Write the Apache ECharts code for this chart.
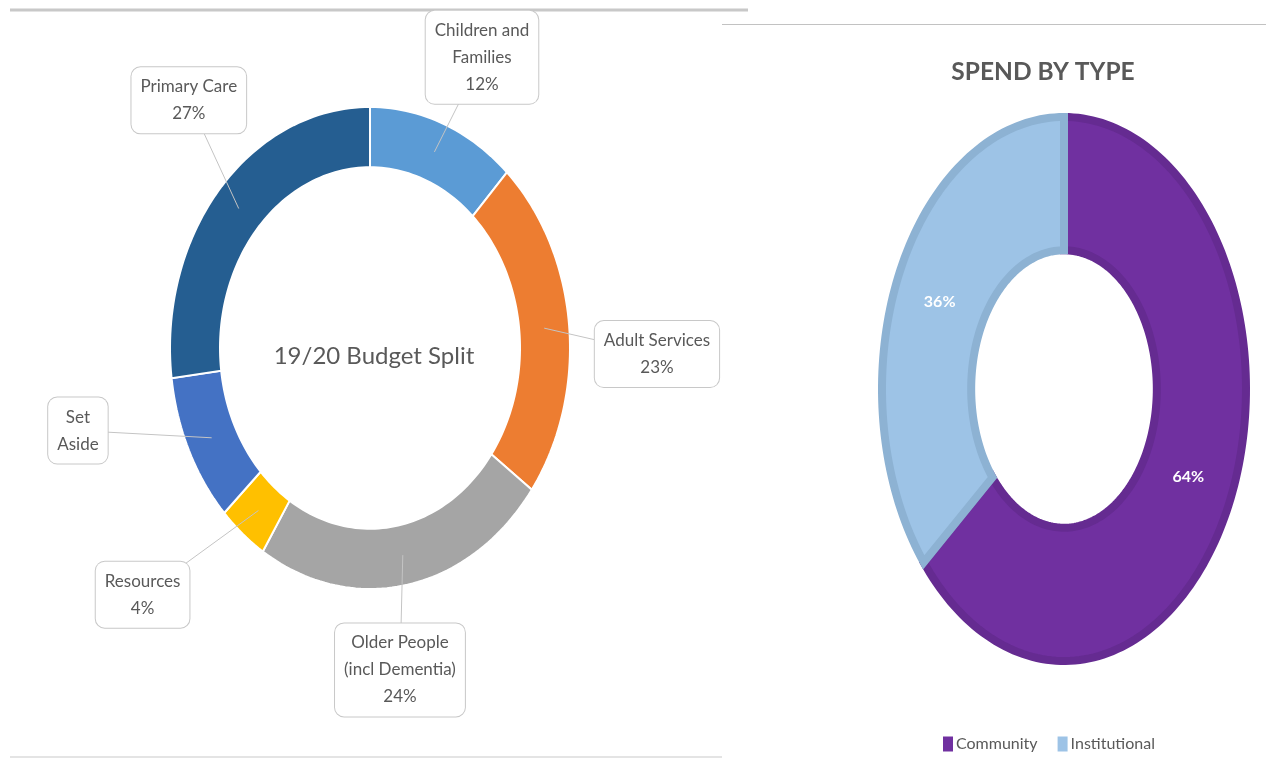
<!DOCTYPE html>
<html>
<head>
<meta charset="utf-8">
<script src="https://cdn.jsdelivr.net/npm/echarts@6/dist/echarts.min.js"></script>
<style>
  html, body { margin: 0; padding: 0; background: #fff; }
  #chart { width: 1266px; height: 760px; }
</style>
</head>
<body>
<div id="chart"></div>
<script>
// left donut: 19/20 budget split
const budgetNames = ['Children and\nFamilies', 'Adult Services', 'Older People\n(incl Dementia)', 'Resources', 'Set\nAside', 'Primary Care']
const budgetValues = [12, 23, 24, 4, 10, 27]
const budgetShowPct = [true, true, true, true, false, true]

// right donut: spend by type
const spendNames = ['Community', 'Institutional']
const spendValues = [64, 36]

const budgetColors = ['#5B9BD5', '#ED7D31', '#A5A5A5', '#FFC000', '#4472C4', '#255E91']
const spendColors = ['#7030A0', '#9DC3E6']
const spendBorders = ['#652B91', '#8DB2D3']

// label box placement: [radius factor, angle nudge in degrees]
const labelLayout = [[1.33, 3.3], [1.435, 6.4], [1.344, 4.4], [1.53, 8.4], [1.5, 12], [1.37, 7.2]]

const BUDGET_INNER = 0.75
const SPEND_INNER = 0.51
const TWO_PI = Math.PI * 2
const textColor = '#595959'

function cumulative(values) {
  const total = values.reduce((a, b) => a + b, 0)
  let acc = 0
  return values.map(v => {
    const s = acc / total
    acc += v
    return [s, acc / total]
  })
}

// angles clockwise from 12 o'clock, axes run -1..1 so the grid shape makes the ellipse
function arcPoints(api, from, to, r) {
  const n = Math.max(2, Math.ceil(Math.abs(to - from) / (Math.PI / 120)))
  const pts = []
  for (let k = 0; k <= n; k++) {
    const a = from + (to - from) * k / n
    pts.push(api.coord([r * Math.sin(a), r * Math.cos(a)]))
  }
  return pts
}

const budgetTotal = budgetValues.reduce((a, b) => a + b, 0)

function renderBudget(params, api) {
  const i = params.dataIndex
  const a0 = api.value(0) * TWO_PI
  const a1 = api.value(1) * TWO_PI
  const pts = arcPoints(api, a0, a1, 1).concat(arcPoints(api, a1, a0, BUDGET_INNER))
  const mid = (a0 + a1) / 2
  const rm = (1 + BUDGET_INNER) / 2
  const anchor = api.coord([rm * Math.sin(mid), rm * Math.cos(mid)])
  const lay = labelLayout[i]
  const la = mid + lay[1] * Math.PI / 180
  const box = api.coord([lay[0] * Math.sin(la), lay[0] * Math.cos(la)])
  const pct = Math.round(budgetValues[i] / budgetTotal * 100)
  const text = budgetNames[i] + (budgetShowPct[i] ? '\n' + pct + '%' : '')
  return {
    type: 'group',
    children: [
      {
        type: 'polygon',
        shape: { points: pts },
        style: { fill: budgetColors[i], stroke: '#fff', lineWidth: 2 }
      },
      {
        type: 'line',
        shape: { x1: anchor[0], y1: anchor[1], x2: box[0], y2: box[1] },
        style: { stroke: '#c4c4c4', lineWidth: 1 },
        z2: 5
      },
      {
        type: 'text',
        x: box[0],
        y: box[1],
        z2: 10,
        style: {
          text: text,
          fill: textColor,
          fontSize: 17,
          fontFamily: 'Lato',
          lineHeight: 27,
          align: 'center',
          verticalAlign: 'middle',
          backgroundColor: '#fff',
          borderColor: '#c8c8c8',
          borderWidth: 1,
          borderRadius: 9,
          padding: [6, 9]
        }
      }
    ]
  }
}

const spendTotal = spendValues.reduce((a, b) => a + b, 0)

function renderSpend(params, api) {
  const s = params.seriesIndex - 1
  const a0 = api.value(0) * TWO_PI
  const a1 = api.value(1) * TWO_PI
  const pts = arcPoints(api, a0, a1, 1).concat(arcPoints(api, a1, a0, SPEND_INNER))
  const mid = (a0 + a1) / 2
  const rm = (1 + SPEND_INNER) / 2
  const lp = api.coord([rm * Math.sin(mid), rm * Math.cos(mid)])
  return {
    type: 'group',
    children: [
      {
        type: 'polygon',
        shape: { points: pts },
        style: { fill: api.visual('color'), stroke: spendBorders[s], lineWidth: 8, lineJoin: 'miter' }
      },
      {
        type: 'text',
        x: lp[0],
        y: lp[1],
        z2: 10,
        style: {
          text: Math.round(spendValues[s] / spendTotal * 100) + '%',
          fill: '#fff',
          fontSize: 16,
          fontWeight: 'bold',
          fontFamily: 'Lato',
          align: 'center',
          verticalAlign: 'middle'
        }
      }
    ]
  }
}

const budgetData = cumulative(budgetValues)
const spendData = cumulative(spendValues)

const chart = echarts.init(document.getElementById('chart'))
const hiddenAxis = (g) => ({ type: 'value', gridIndex: g, min: -1, max: 1, show: false })

chart.setOption({
  animation: false,
  textStyle: { fontFamily: 'Lato' },
  title: [
    {
      text: '19/20 Budget Split',
      left: 369,
      top: 339,
      textAlign: 'center',
      textStyle: { fontSize: 24, fontWeight: 'normal', color: textColor, fontFamily: 'Lato' }
    },
    {
      text: 'SPEND BY TYPE',
      left: 1038,
      top: 55,
      textAlign: 'center',
      textStyle: { fontSize: 24.5, fontWeight: 'bold', color: textColor, fontFamily: 'Lato' }
    }
  ],
  legend: {
    data: spendNames,
    left: 938,
    top: 731,
    icon: 'rect',
    itemWidth: 10,
    itemHeight: 15,
    itemGap: 20,
    textStyle: { fontSize: 16, color: textColor, padding: [0, 0, 0, -2] }
  },
  grid: [
    { left: 170, top: 107, width: 400, height: 482 },
    { left: 882, top: 117, width: 364, height: 544 }
  ],
  xAxis: [hiddenAxis(0), hiddenAxis(1)],
  yAxis: [hiddenAxis(0), hiddenAxis(1)],
  graphic: [
    { type: 'line', shape: { x1: 10, y1: 10, x2: 748, y2: 10 }, style: { stroke: '#c8c8c8', lineWidth: 3 } },
    { type: 'line', shape: { x1: 722, y1: 24.5, x2: 1266, y2: 24.5 }, style: { stroke: '#c2c2c2', lineWidth: 1 } },
    { type: 'line', shape: { x1: 10, y1: 757, x2: 722, y2: 757 }, style: { stroke: '#e4e4e4', lineWidth: 2 } }
  ],
  series: [
    {
      type: 'custom',
      name: '19/20 Budget Split',
      coordinateSystem: 'cartesian2d',
      xAxisIndex: 0,
      yAxisIndex: 0,
      clip: false,
      renderItem: renderBudget,
      data: budgetData
    }
  ].concat(spendNames.map((name, k) => ({
    type: 'custom',
    name: name,
    coordinateSystem: 'cartesian2d',
    xAxisIndex: 1,
    yAxisIndex: 1,
    clip: false,
    z: 2 + k,
    itemStyle: { color: spendColors[k] },
    renderItem: renderSpend,
    data: [spendData[k]]
  })))
})
</script>
</body>
</html>
